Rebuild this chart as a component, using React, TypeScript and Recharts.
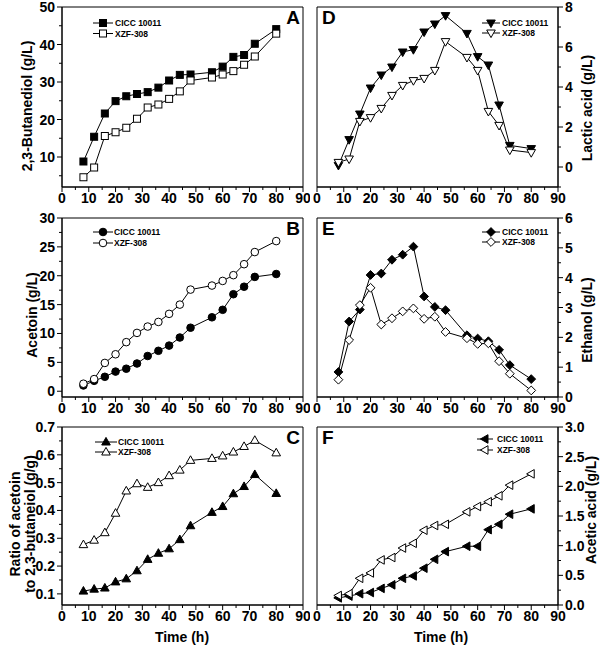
import React from "react";
import { LineChart, Line, XAxis, YAxis, ReferenceArea, Label, Legend } from "recharts";

const FONT = '"Liberation Sans", Arial, sans-serif';

const hours = [8, 12, 16, 20, 24, 28, 32, 36, 40, 44, 48, 56, 60, 64, 68, 72, 80];
const seriesNames = ["CICC 10011", "XZF-308"];

const butanediolCicc = [8.8, 15.4, 21.6, 24.9, 26.2, 26.8, 27.3, 28.5, 30.4, 31.9, 32.0, 32.6, 34.1, 36.7, 37.2, 40.2, 44.1];
const butanediolXzf = [4.6, 7.2, 15.6, 16.6, 17.8, 20.2, 23.2, 24.0, 25.5, 27.5, 30.4, 31.2, 32.0, 32.9, 34.6, 36.8, 42.9];
const acetoinCicc = [1.0, 1.8, 2.5, 3.4, 3.9, 4.8, 6.1, 7.0, 7.9, 9.3, 11.0, 12.8, 14.1, 16.8, 18.1, 19.8, 20.3];
const acetoinXzf = [1.3, 2.1, 4.9, 6.4, 8.5, 10.1, 11.2, 12.0, 13.4, 15.0, 17.6, 18.3, 19.1, 20.1, 22.0, 24.1, 26.0];
const ratioCicc = [0.11, 0.117, 0.121, 0.143, 0.154, 0.183, 0.224, 0.246, 0.262, 0.295, 0.345, 0.393, 0.414, 0.46, 0.486, 0.529, 0.461];
const ratioXzf = [0.277, 0.293, 0.32, 0.39, 0.47, 0.496, 0.483, 0.5, 0.525, 0.545, 0.58, 0.587, 0.596, 0.61, 0.63, 0.652, 0.607];
const lacticCicc = [0.08, 1.37, 2.65, 3.95, 4.6, 5.0, 5.75, 5.87, 6.75, 7.15, 7.57, 6.68, 5.52, 5.1, 3.1, 1.08, 0.92];
const lacticXzf = [0.23, 0.4, 2.28, 2.47, 2.93, 3.58, 4.08, 4.32, 4.43, 4.83, 6.27, 5.48, 4.83, 2.78, 2.08, 0.85, 0.72];
const ethanolCicc = [0.84, 2.53, 2.93, 4.09, 4.14, 4.6, 4.77, 5.04, 3.37, 3.02, 2.91, 2.07, 1.96, 1.87, 1.58, 1.07, 0.6];
const ethanolXzf = [0.58, 1.91, 3.08, 3.66, 2.43, 2.64, 2.87, 2.97, 2.62, 2.69, 2.18, 1.97, 1.78, 1.8, 1.2, 0.78, 0.22];
const aceticCicc = [0.12, 0.15, 0.19, 0.21, 0.28, 0.34, 0.45, 0.49, 0.62, 0.77, 0.9, 0.99, 0.99, 1.27, 1.36, 1.53, 1.62];
const aceticXzf = [0.16, 0.19, 0.45, 0.54, 0.76, 0.8, 0.96, 1.04, 1.26, 1.34, 1.36, 1.57, 1.66, 1.74, 1.84, 2.02, 2.21];

const timeTicks = [0, 5, 10, 15, 20, 25, 30, 35, 40, 45, 50, 55, 60, 65, 70, 75, 80, 85, 90];
const butanediolTicks = [5, 10, 15, 20, 25, 30, 35, 40, 45, 50];
const acetoinTicks = [0, 2.5, 5, 7.5, 10, 12.5, 15, 17.5, 20, 22.5, 25, 27.5, 30];
const ratioTicks = [0.1, 0.15, 0.2, 0.25, 0.3, 0.35, 0.4, 0.45, 0.5, 0.55, 0.6, 0.65, 0.7];
const lacticTicks = [-1, 0, 1, 2, 3, 4, 5, 6, 7, 8];
const ethanolTicks = [0, 0.5, 1, 1.5, 2, 2.5, 3, 3.5, 4, 4.5, 5, 5.5, 6];
const aceticTicks = [0, 0.25, 0.5, 0.75, 1, 1.25, 1.5, 1.75, 2, 2.25, 2.5, 2.75, 3];

type Kind = "square" | "circle" | "up" | "down" | "diamond" | "left";

function Marker({ kind, cx, cy, filled }: { kind: Kind; cx: number; cy: number; filled: boolean }) {
  const p = { fill: filled ? "#000" : "#fff", stroke: "#000", strokeWidth: 1 };
  if (kind === "square") return <rect x={cx - 3.5} y={cy - 3.5} width={7} height={7} {...p} />;
  if (kind === "circle") return <circle cx={cx} cy={cy} r={3.8} {...p} />;
  if (kind === "diamond")
    return <polygon points={`${cx},${cy - 4.4} ${cx + 4.4},${cy} ${cx},${cy + 4.4} ${cx - 4.4},${cy}`} {...p} />;
  if (kind === "up")
    return <polygon points={`${cx},${cy - 4.6} ${cx + 4.3},${cy + 3} ${cx - 4.3},${cy + 3}`} {...p} />;
  if (kind === "down")
    return <polygon points={`${cx},${cy + 4.6} ${cx + 4.3},${cy - 3} ${cx - 4.3},${cy - 3}`} {...p} />;
  return <polygon points={`${cx - 4.6},${cy} ${cx + 3},${cy - 4.3} ${cx + 3},${cy + 4.3}`} {...p} />;
}

const isMajor = (v: number, step: number) => Math.abs(v / step - Math.round(v / step)) < 1e-6;

const XTick = (props: any) => {
  const { x, y, payload } = props;
  const v = payload.value;
  const major = isMajor(v, 10);
  return (
    <g>
      <line x1={x} x2={x} y1={y} y2={y + (major ? 5 : 3)} stroke="#000" />
      {major && (
        <text x={x} y={y + 16} textAnchor="middle" fontSize={14} fontWeight="bold" fontFamily={FONT} fill="#000">
          {v}
        </text>
      )}
    </g>
  );
};

const makeYTick = (side: "left" | "right", step: number, digits: number) => (props: any) => {
  const { x, y, payload } = props;
  const v = payload.value;
  const major = isMajor(v, step);
  const dir = side === "left" ? -1 : 1;
  return (
    <g>
      <line x1={x} x2={x + dir * (major ? 5 : 3)} y1={y} y2={y} stroke="#000" />
      {major && (
        <text
          x={x + dir * 7}
          y={y + 5}
          textAnchor={side === "left" ? "end" : "start"}
          fontSize={14}
          fontWeight="bold"
          fontFamily={FONT}
          fill="#000"
        >
          {v.toFixed(digits)}
        </text>
      )}
    </g>
  );
};

type Panel = {
  letter: string;
  side: "left" | "right";
  left: number;
  top: number;
  height: number;
  marginTop: number;
  xAxisHeight: number;
  kind: Kind;
  cicc: number[];
  xzf: number[];
  domain: [number, number];
  ticks: number[];
  majorStep: number;
  digits: number;
  title: { text: string; cx: number }[];
  titleY: number;
  legend: { x: number; y: number; len: number; gap: number; step: number };
  timeX?: number;
};

const panels: Panel[] = [
  {
    letter: "A", side: "left", left: 0, top: 0, height: 209, marginTop: 7, xAxisHeight: 22, kind: "square",
    cicc: butanediolCicc, xzf: butanediolXzf, domain: [2, 50], ticks: butanediolTicks, majorStep: 10, digits: 0,
    title: [{ text: "2,3-Butanediol (g/L)", cx: 27.5 }], titleY: 106,
    legend: { x: 93, y: 17, len: 20, gap: 2, step: 10.5 },
  },
  {
    letter: "B", side: "left", left: 0, top: 208, height: 211, marginTop: 10, xAxisHeight: 22, kind: "circle",
    cicc: acetoinCicc, xzf: acetoinXzf, domain: [-1, 30], ticks: acetoinTicks, majorStep: 5, digits: 0,
    title: [{ text: "Acetoin (g/L)", cx: 32 }], titleY: 107,
    legend: { x: 93, y: 18, len: 20, gap: 1, step: 11 },
  },
  {
    letter: "C", side: "left", left: 0, top: 419, height: 227, marginTop: 8, xAxisHeight: 41, kind: "up",
    cicc: ratioCicc, xzf: ratioXzf, domain: [0.06, 0.7], ticks: ratioTicks, majorStep: 0.1, digits: 1,
    title: [
      { text: "Ratio of acetoin", cx: 15.5 },
      { text: "to 2,3-butaneiol (g/g)", cx: 30 },
    ],
    titleY: 105,
    legend: { x: 95, y: 17, len: 22, gap: 1, step: 10 },
    timeX: 182,
  },
  {
    letter: "D", side: "right", left: 310, top: 0, height: 209, marginTop: 7, xAxisHeight: 22, kind: "down",
    cicc: lacticCicc, xzf: lacticXzf, domain: [-1, 8], ticks: lacticTicks, majorStep: 2, digits: 0,
    title: [{ text: "Lactic acid (g/L)", cx: 277 }], titleY: 108,
    legend: { x: 172, y: 17, len: 18, gap: 2, step: 10 },
  },
  {
    letter: "E", side: "right", left: 310, top: 208, height: 211, marginTop: 10, xAxisHeight: 22, kind: "diamond",
    cicc: ethanolCicc, xzf: ethanolXzf, domain: [0, 6], ticks: ethanolTicks, majorStep: 1, digits: 0,
    title: [{ text: "Ethanol (g/L)", cx: 277 }], titleY: 112,
    legend: { x: 172, y: 18, len: 18, gap: 2, step: 10 },
  },
  {
    letter: "F", side: "right", left: 310, top: 419, height: 227, marginTop: 8, xAxisHeight: 41, kind: "left",
    cicc: aceticCicc, xzf: aceticXzf, domain: [0, 3], ticks: aceticTicks, majorStep: 0.5, digits: 1,
    title: [{ text: "Acetic acid (g/L)", cx: 281 }], titleY: 91,
    legend: { x: 167, y: 14, len: 16, gap: 4, step: 11 },
    timeX: 131,
  },
];

const PanelLegend = ({ cfg }: { cfg: Panel }) => {
  const { len, gap, step } = cfg.legend;
  return (
    <svg width={95} height={26} style={{ display: "block" }}>
      {seriesNames.map((name, i) => {
        const cy = 6 + i * step;
        return (
          <g key={name}>
            <line x1={0} x2={len} y1={cy} y2={cy} stroke="#000" />
            <Marker kind={cfg.kind} cx={len / 2} cy={cy} filled={i === 0} />
            <text x={len + gap} y={cy + 3} fontSize={8.5} fontWeight="bold" fontFamily={FONT} fill="#000">
              {name}
            </text>
          </g>
        );
      })}
    </svg>
  );
};

function PanelChart({ cfg }: { cfg: Panel }) {
  const data = hours.map((h, i) => ({ hour: h, cicc: cfg.cicc[i], xzf: cfg.xzf[i] }));
  const isLeft = cfg.side === "left";
  const width = isLeft ? 310 : 290;
  const margin = isLeft
    ? { top: cfg.marginTop, right: 7, left: 0, bottom: 0 }
    : { top: cfg.marginTop, right: 0, left: 7, bottom: 0 };
  const plotTop = cfg.marginTop;

  const texts = () => (
    <g fontFamily={FONT} fontWeight="bold" fill="#000">
      <text
        x={isLeft ? 300 : 12}
        y={plotTop + 17}
        fontSize={19}
        textAnchor={isLeft ? "end" : "start"}
      >
        {cfg.letter}
      </text>
      {cfg.title.map((t) => (
        <text
          key={t.text}
          transform={`rotate(-90 ${t.cx} ${cfg.titleY})`}
          x={t.cx}
          y={cfg.titleY}
          dy="0.35em"
          textAnchor="middle"
          fontSize={14}
        >
          {t.text}
        </text>
      ))}
      {cfg.timeX !== undefined && (
        <text x={cfg.timeX} y={223} textAnchor="middle" fontSize={14}>
          Time (h)
        </text>
      )}
    </g>
  );

  return (
    <div style={{ position: "absolute", left: cfg.left, top: cfg.top }}>
      <LineChart width={width} height={cfg.height} data={data} margin={margin}>
        <XAxis
          dataKey="hour"
          type="number"
          domain={[0, 90]}
          ticks={timeTicks}
          interval={0}
          tickSize={0}
          tickMargin={0}
          tickLine={false}
          axisLine={{ stroke: "#000" }}
          height={cfg.xAxisHeight}
          tick={XTick}
        />
        <YAxis
          type="number"
          orientation={cfg.side}
          domain={cfg.domain}
          ticks={cfg.ticks}
          interval={0}
          tickSize={0}
          tickMargin={0}
          tickLine={false}
          axisLine={{ stroke: "#000" }}
          width={isLeft ? 62 : 42}
          tick={makeYTick(cfg.side, cfg.majorStep, cfg.digits)}
        />
        <ReferenceArea
          x1={0}
          x2={90}
          y1={cfg.domain[0]}
          y2={cfg.domain[1]}
          fill="none"
          stroke="#000"
          strokeWidth={1}
        >
          <Label content={texts} />
        </ReferenceArea>
        <Line
          dataKey="cicc"
          name={seriesNames[0]}
          stroke="#000"
          strokeWidth={1}
          isAnimationActive={false}
          activeDot={false}
          dot={(p: any) => <Marker key={`c${p.index}`} kind={cfg.kind} cx={p.cx} cy={p.cy} filled />}
        />
        <Line
          dataKey="xzf"
          name={seriesNames[1]}
          stroke="#000"
          strokeWidth={1}
          isAnimationActive={false}
          activeDot={false}
          dot={(p: any) => <Marker key={`x${p.index}`} kind={cfg.kind} cx={p.cx} cy={p.cy} filled={false} />}
        />
        <Legend
          layout="vertical"
          align="center"
          verticalAlign="middle"
          wrapperStyle={{ left: cfg.legend.x, top: cfg.legend.y, width: "auto", height: "auto" }}
          content={() => <PanelLegend cfg={cfg} />}
        />
      </LineChart>
    </div>
  );
}

export default function App() {
  return (
    <div style={{ position: "absolute", left: 0, top: 0, width: 600, height: 646, background: "#fff" }}>
      {panels.map((cfg) => (
        <PanelChart key={cfg.letter} cfg={cfg} />
      ))}
    </div>
  );
}
